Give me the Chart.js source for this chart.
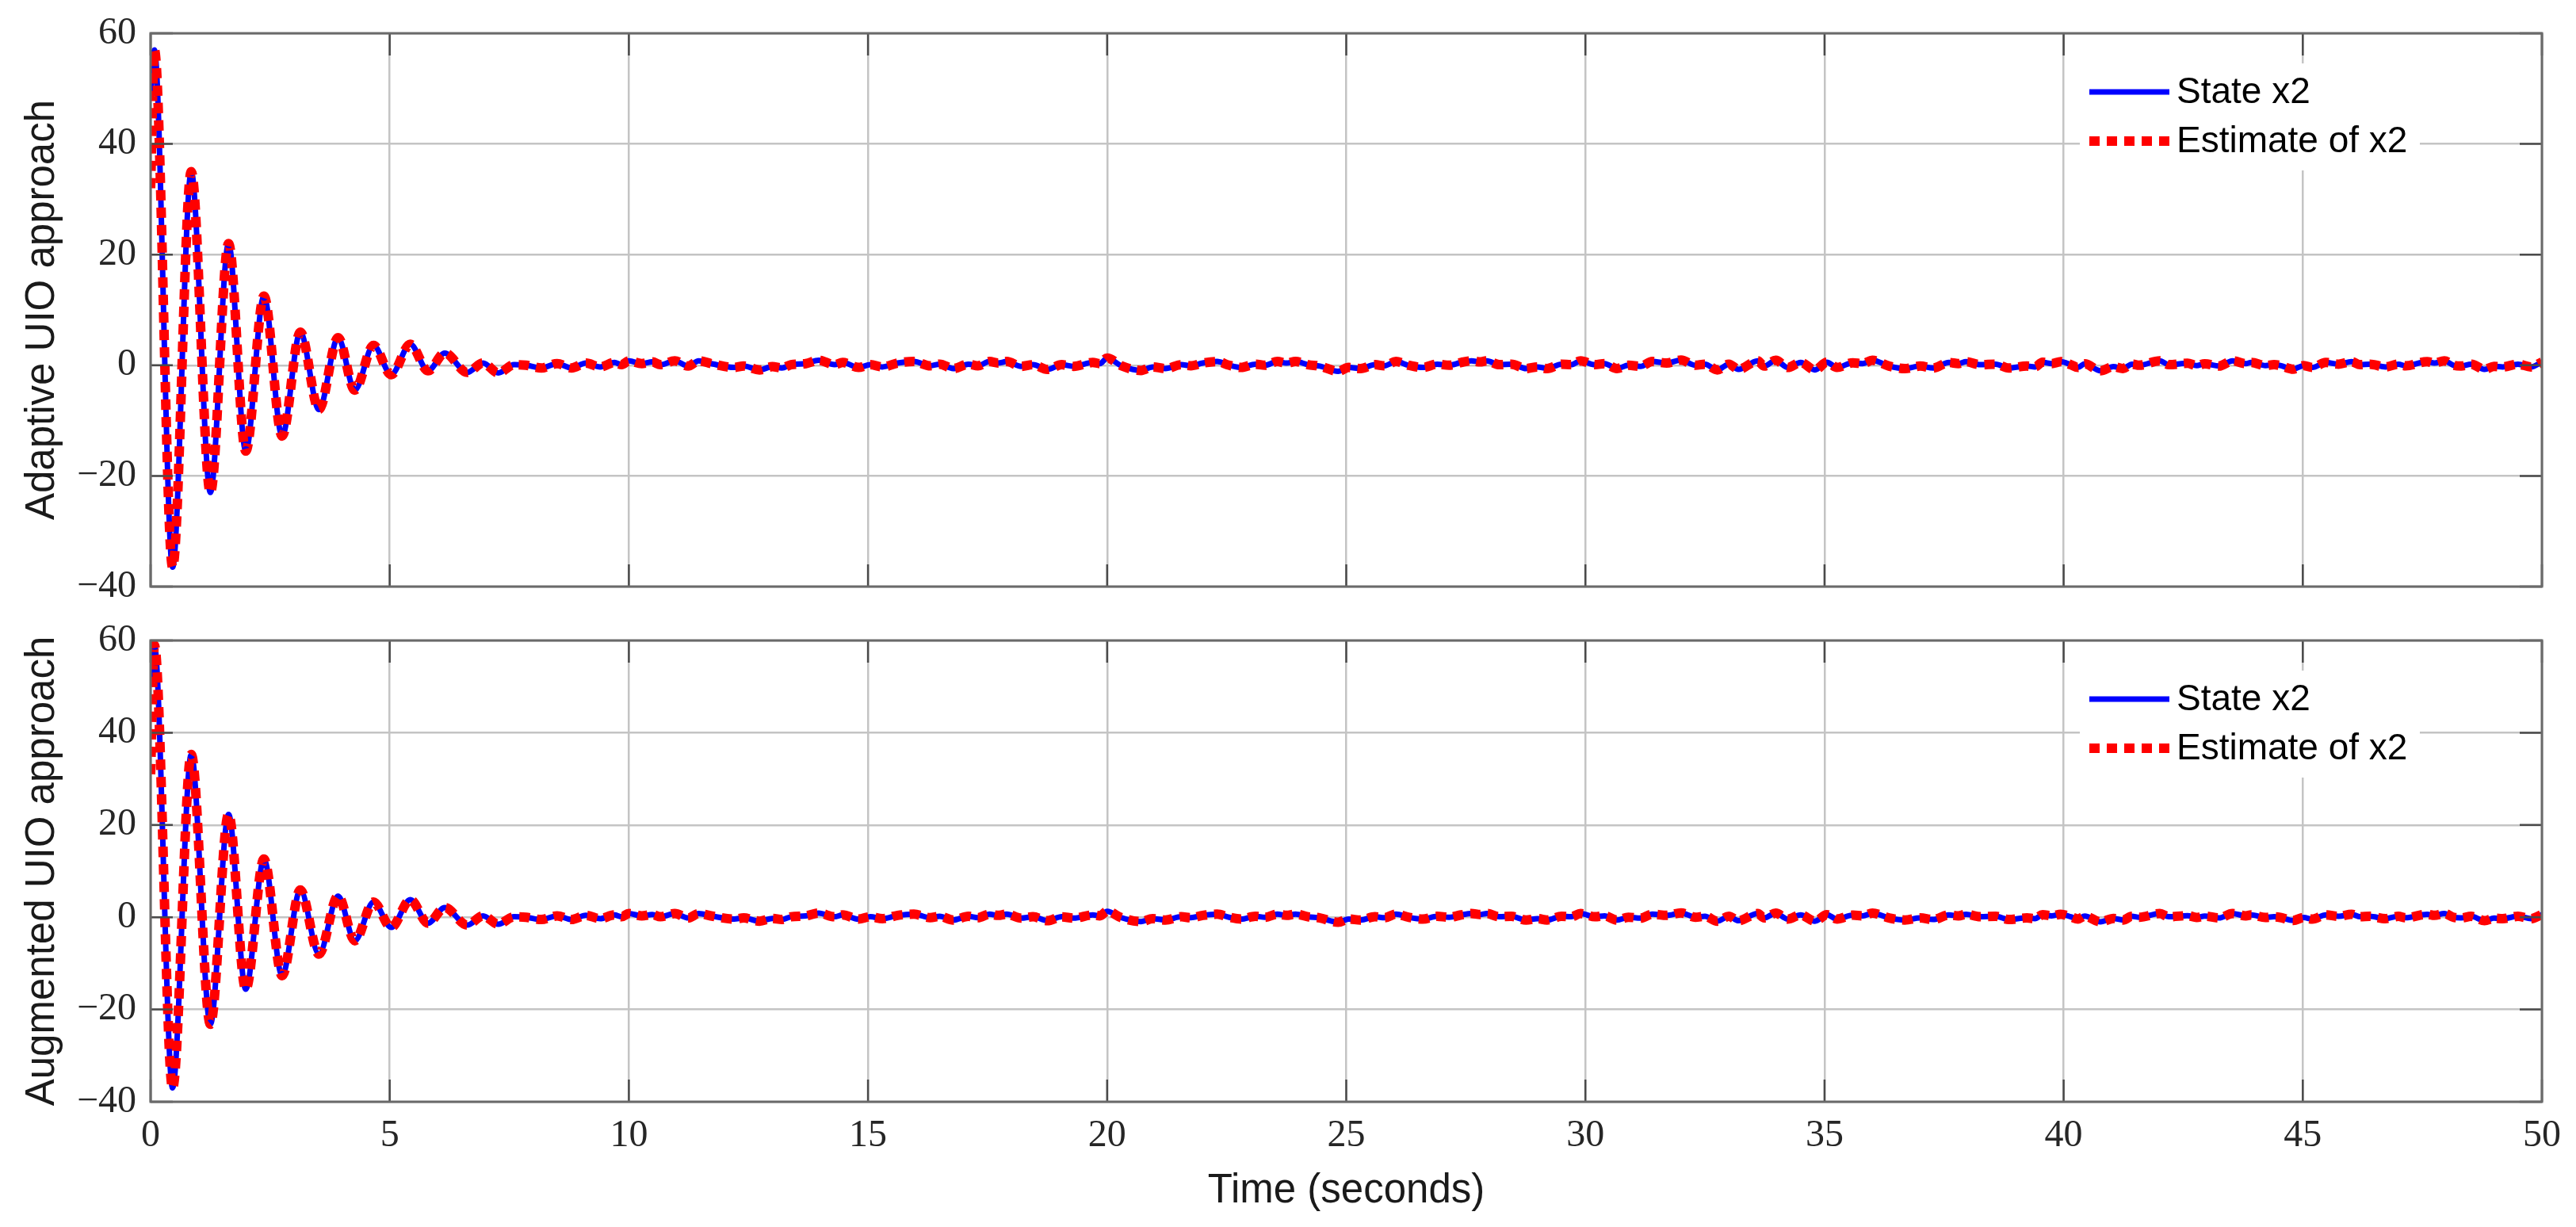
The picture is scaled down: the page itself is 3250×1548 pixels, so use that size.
<!DOCTYPE html>
<html>
<head>
<meta charset="utf-8">
<title>State x2 and estimate</title>
<script src="https://cdn.jsdelivr.net/npm/chart.js@4.4.1/dist/chart.umd.min.js"></script>
<style>
    html, body { margin: 0; padding: 0; background: #fff; }
    body { width: 3250px; height: 1548px; position: relative; overflow: hidden; }
    .panel { position: absolute; left: 0; width: 3250px; }
    /* y tick labels reserve 42px above/below the plot area, panels overlap a bit */
    #top-panel { top: 0; height: 782px; }
    #bottom-panel { top: 766px; height: 782px; }
</style>
</head>
<body>
<div class="panel" id="top-panel"><canvas id="adaptiveChart"></canvas></div>
<div class="panel" id="bottom-panel"><canvas id="augmentedChart"></canvas></div>
<script>
// transient part, 0..8 s (peaks and troughs)
const headTime = [0, 0.08, 0.46, 0.85, 1.25, 1.63, 1.99, 2.37, 2.75, 3.13, 3.52, 3.92,
    4.27, 4.66, 5.03, 5.43, 5.80, 6.15, 6.62, 6.95, 7.27, 7.60, 7.85, 8.17];

const adaptiveState    = [48, 57, -36.5, 35, -23, 22, -15.5, 12.5, -12.8, 6, -8, 5,
    -4.5, 3.6, -1.7, 3.8, -1, 2.2, -1.3, 0.4, -1.4, 0.1, 0, -0.5];
const adaptiveEstimate = [32, 57, -36.5, 35, -23, 22, -15.5, 12.5, -12.8, 6, -8, 5,
    -4.5, 3.6, -1.7, 3.8, -1, 2.2, -1.3, 0.4, -1.4, 0.1, 0, -0.5];

const augmentedState    = [50, 59, -37, 35.3, -23.2, 22.3, -15.6, 12.6, -12.7, 5.9, -8, 4.6,
    -5.1, 3.3, -2.2, 3.8, -1.3, 2.1, -1.7, 0.3, -1.5, 0.1, 0, -0.5];
const augmentedEstimate = [31, 59, -37, 35.3, -23.2, 22.3, -15.6, 12.6, -12.7, 5.9, -8, 4.6,
    -5.1, 3.3, -2.2, 3.8, -1.3, 2.1, -1.7, 0.3, -1.5, 0.1, 0, -0.5];

// small residual wiggle, 8.5..50 s (same in both panels)
const tailTime = [
    8.50, 8.80, 9.10, 9.40, 9.70, 9.85, 10.00, 10.27, 10.49, 10.66,
    10.96, 11.24, 11.46, 11.74, 12.20, 12.40, 12.73, 13.00, 13.20, 13.39,
    13.70, 13.97, 14.30, 14.47, 14.80, 15.05, 15.30, 15.62, 15.96, 16.30,
    16.50, 16.78, 17.10, 17.30, 17.54, 17.72, 17.90, 18.20, 18.45, 18.75,
    19.05, 19.30, 19.70, 19.85, 20.00, 20.30, 20.71, 20.95, 21.22, 21.55,
    21.75, 22.00, 22.30, 22.55, 22.80, 23.10, 23.30, 23.56, 23.75, 23.94,
    24.20, 24.45, 24.83, 25.05, 25.30, 25.60, 25.80, 26.04, 26.30, 26.60,
    26.90, 27.15, 27.40, 27.62, 27.80, 27.94, 28.20, 28.45, 28.76, 29.00,
    29.20, 29.50, 29.70, 29.90, 30.20, 30.40, 30.66, 30.90, 31.15, 31.40,
    31.70, 32.00, 32.30, 32.50, 32.76, 33.00, 33.20, 33.60, 33.74, 33.98,
    34.23, 34.50, 34.80, 35.05, 35.26, 35.59, 35.80, 36.00, 36.35, 36.68,
    37.00, 37.27, 37.60, 37.80, 37.96, 38.25, 38.58, 38.85, 39.23, 39.40,
    39.56, 39.75, 39.94, 40.15, 40.30, 40.44, 40.77, 41.04, 41.24, 41.43,
    41.58, 42.01, 42.20, 42.59, 42.78, 42.95, 43.25, 43.53, 43.81, 43.92,
    44.22, 44.40, 44.53, 44.80, 45.02, 45.20, 45.48, 45.75, 46.02, 46.20,
    46.40, 46.73, 47.00, 47.15, 47.60, 47.75, 47.96, 48.15, 48.31, 48.52,
    48.80, 49.00, 49.18, 49.50, 49.77, 50.00
];
const tailValue = [
    0.3, -0.5, 0.4, -0.3, 0.5, 0.1, 0.8, 0.3, 0.6, 0.1,
    0.8, -0.15, 0.8, 0.25, -0.4, -0.15, -0.85, -0.25, -0.5, 0.1,
    0.3, 0.9, 0.1, 0.5, -0.4, 0.1, -0.3, 0.4, 0.67, -0.1,
    0.2, -0.6, 0.2, -0.1, 0.67, 0.4, 0.67, -0.2, 0.1, -0.75,
    0.1, -0.2, 0.5, 0.3, 1.3, -0.1, -0.95, -0.3, -0.6, 0.1,
    -0.1, 0.4, 0.67, 0.0, -0.4, 0.2, 0.0, 0.67, 0.4, 0.67,
    0.1, -0.15, -1.1, -0.4, -0.6, 0.1, -0.1, 0.67, 0.0, -0.4,
    0.2, 0.0, 0.5, 0.8, 0.6, 0.8, 0.1, 0.2, -0.6, -0.3,
    -0.6, 0.2, 0.1, 0.8, 0.1, 0.3, -0.6, 0.0, -0.2, 0.67,
    0.4, 0.95, 0.0, 0.2, -0.85, 0.2, -0.75, 0.8, -0.15, 0.9,
    -0.4, 0.5, -0.85, 0.55, -0.4, 0.45, 0.3, 0.9, -0.15, -0.6,
    -0.15, -0.5, 0.5, 0.3, 0.65, 0.1, 0.2, -0.5, -0.15, -0.3,
    0.55, 0.3, 0.65, 0.1, -0.4, 0.25, -1.0, -0.25, -0.6, 0.2,
    0.0, 0.8, 0.1, 0.35, -0.05, 0.25, -0.15, 0.8, 0.3, 0.5,
    -0.05, 0.1, -0.05, -0.7, -0.05, -0.4, 0.5, 0.2, 0.65, 0.1,
    0.2, -0.3, 0.2, -0.1, 0.65, 0.4, 0.8, 0.0, -0.15, 0.2,
    -0.75, -0.2, -0.3, 0.2, -0.3, 0.6
];

const X_TICKS = { min: 0, max: 50, step: 5 };
const Y_TICKS = { min: -40, max: 60, step: 20 };
const X_TITLE = 'Time (seconds)';

const SERIF = '"Liberation Serif", "DejaVu Serif", serif';
const SANS = '"Liberation Sans", Arial, sans-serif';

function toPoints(times, values) {
    return times.map((t, i) => ({ x: t, y: values[i] }));
}

function minusSign(v) {
    return v < 0 ? '\u2212' + Math.abs(v) : String(v);
}

// box, inward tick marks and the in-axes legend
const axesFrame = {
    id: 'axesFrame',
    afterDatasetsDraw(chart, args, opts) {
        const { ctx, chartArea: a } = chart;
        ctx.save();
        ctx.fillStyle = '#fff';
        ctx.fillRect(a.right - 583, a.top + opts.boxTop, 429, opts.boxBottom - opts.boxTop);
        chart.data.datasets.forEach((ds, i) => {
            const y = a.top + opts.rows[i];
            ctx.strokeStyle = ds.borderColor;
            ctx.lineWidth = ds.borderWidth;
            ctx.lineCap = 'butt';
            ctx.setLineDash(ds.borderDash || []);
            ctx.beginPath();
            ctx.moveTo(a.right - 571, y);
            ctx.lineTo(a.right - 470, y);
            ctx.stroke();
            ctx.setLineDash([]);
            ctx.fillStyle = '#000';
            ctx.font = '46px ' + SANS;
            ctx.textBaseline = 'middle';
            ctx.textAlign = 'left';
            ctx.fillText(ds.label, a.right - 461, y + 1);
        });
        ctx.restore();
    },
    afterDraw(chart) {
        const { ctx, chartArea: a, scales: { x, y } } = chart;
        const len = 28;
        ctx.save();
        ctx.strokeStyle = '#4a4a4a';
        ctx.lineWidth = 2.5;
        ctx.beginPath();
        x.ticks.forEach(t => {
            const px = x.getPixelForValue(t.value);
            ctx.moveTo(px, a.bottom); ctx.lineTo(px, a.bottom - len);
            ctx.moveTo(px, a.top);    ctx.lineTo(px, a.top + len);
        });
        y.ticks.forEach(t => {
            const py = y.getPixelForValue(t.value);
            ctx.moveTo(a.left, py);  ctx.lineTo(a.left + len, py);
            ctx.moveTo(a.right, py); ctx.lineTo(a.right - len, py);
        });
        ctx.stroke();
        ctx.strokeStyle = '#6a6a6a';
        ctx.lineWidth = 3;
        ctx.strokeRect(a.left, a.top, a.right - a.left, a.bottom - a.top);
        ctx.restore();
    }
};

function makeChart(canvasId, yTitle, state, estimate, panel) {
    const time = headTime.concat(tailTime);
    return new Chart(document.getElementById(canvasId), {
        type: 'line',
        data: {
            datasets: [
                {
                    label: 'State x2',
                    data: toPoints(time, state.concat(tailValue)),
                    borderColor: '#0000ff',
                    borderWidth: 7,
                    order: 1
                },
                {
                    label: 'Estimate of x2',
                    data: toPoints(time, estimate.concat(tailValue)),
                    borderColor: '#ff0000',
                    borderWidth: 12,
                    borderDash: [13, 9],
                    order: 0
                }
            ]
        },
        options: {
            responsive: true,
            maintainAspectRatio: false,
            animation: false,
            layout: { padding: panel.padding },
            elements: {
                point: { radius: 0 },
                line: { cubicInterpolationMode: 'monotone', borderCapStyle: 'butt', fill: false }
            },
            scales: {
                x: {
                    type: 'linear',
                    min: X_TICKS.min, max: X_TICKS.max,
                    ticks: {
                        stepSize: X_TICKS.step,
                        display: panel.showX,
                        padding: 19,
                        color: '#262626',
                        font: { family: SERIF, size: 48, lineHeight: 1 },
                        maxRotation: 0
                    },
                    grid: { color: '#c4c4c4', lineWidth: 2.5, drawTicks: false },
                    border: { display: false },
                    title: {
                        display: panel.showX,
                        text: X_TITLE,
                        color: '#1a1a1a',
                        font: { family: SANS, size: 51, lineHeight: 1.2 },
                        padding: { top: 0, bottom: 14 }
                    },
                    afterFit: s => { s.height = panel.xHeight; }
                },
                y: {
                    min: Y_TICKS.min, max: Y_TICKS.max,
                    ticks: {
                        stepSize: Y_TICKS.step,
                        padding: 18,
                        color: '#262626',
                        font: { family: SERIF, size: 48, lineHeight: 1 },
                        callback: minusSign
                    },
                    grid: { color: '#c4c4c4', lineWidth: 2.5, drawTicks: false },
                    border: { display: false },
                    title: {
                        display: true,
                        text: yTitle,
                        color: '#1a1a1a',
                        font: { family: SANS, size: 51, lineHeight: 1.2 },
                        padding: { top: 23, bottom: 0 }
                    },
                    afterFit: s => { s.width = 190; }
                }
            },
            plugins: {
                legend: { display: false },
                tooltip: { enabled: false },
                axesFrame: { rows: panel.rows, boxTop: panel.boxTop, boxBottom: panel.boxBottom }
            }
        },
        plugins: [axesFrame]
    });
}

makeChart('adaptiveChart', 'Adaptive UIO approach', adaptiveState, adaptiveEstimate, {
    padding: { top: 42, right: 43, bottom: 0, left: 0 },
    showX: false, xHeight: 0,
    rows: [74, 136], boxTop: 38, boxBottom: 173
});

makeChart('augmentedChart', 'Augmented UIO approach', augmentedState, augmentedEstimate, {
    padding: { top: 0, right: 43, bottom: 0, left: 0 },
    showX: true, xHeight: 158,
    rows: [74, 136], boxTop: 38, boxBottom: 173
});
</script>
</body>
</html>
